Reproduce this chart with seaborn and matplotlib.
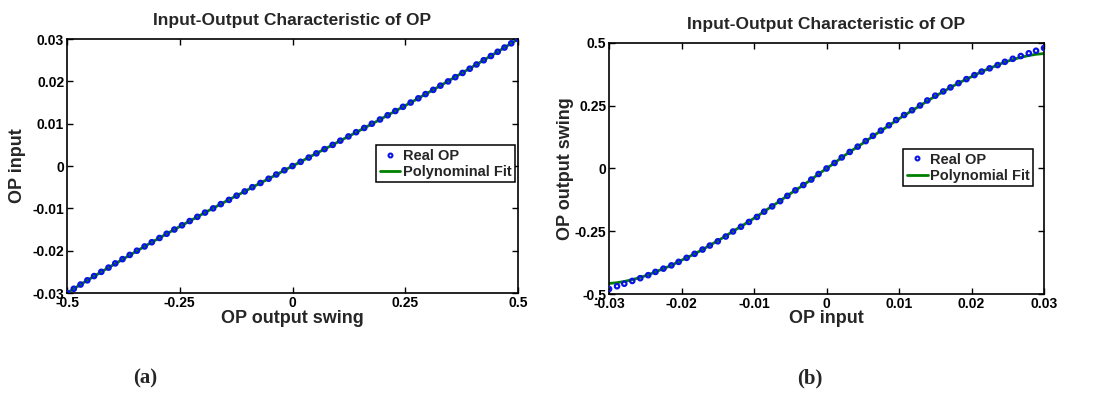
import matplotlib
matplotlib.use("Agg")
import matplotlib.pyplot as plt
import seaborn as sns
from matplotlib.lines import Line2D

# ---------------- data ----------------
# (a) OP input swept in 1 mV steps, measured output swing
a_input = [-0.030, -0.029, -0.028, -0.027, -0.026, -0.025, -0.024, -0.023, -0.022, -0.021,
           -0.020, -0.019, -0.018, -0.017, -0.016, -0.015, -0.014, -0.013, -0.012, -0.011,
           -0.010, -0.009, -0.008, -0.007, -0.006, -0.005, -0.004, -0.003, -0.002, -0.001,
           0.000, 0.001, 0.002, 0.003, 0.004, 0.005, 0.006, 0.007, 0.008, 0.009,
           0.010, 0.011, 0.012, 0.013, 0.014, 0.015, 0.016, 0.017, 0.018, 0.019,
           0.020, 0.021, 0.022, 0.023, 0.024, 0.025, 0.026, 0.027, 0.028, 0.029, 0.030]
a_swing_real = [-0.500, -0.485, -0.470, -0.455, -0.440, -0.424, -0.408, -0.393, -0.377, -0.361,
                -0.345, -0.328, -0.312, -0.295, -0.279, -0.262, -0.245, -0.228, -0.211, -0.194,
                -0.176, -0.159, -0.141, -0.124, -0.106, -0.089, -0.071, -0.053, -0.036, -0.018,
                0.000, 0.018, 0.036, 0.053, 0.071, 0.089, 0.106, 0.124, 0.141, 0.159,
                0.176, 0.194, 0.211, 0.228, 0.245, 0.262, 0.279, 0.295, 0.312, 0.328,
                0.345, 0.361, 0.377, 0.393, 0.408, 0.424, 0.440, 0.455, 0.470, 0.485, 0.500]
a_swing_fit = [-0.500, -0.485, -0.470, -0.455, -0.439, -0.424, -0.408, -0.392, -0.376, -0.360,
               -0.344, -0.328, -0.312, -0.295, -0.279, -0.262, -0.245, -0.228, -0.211, -0.194,
               -0.177, -0.159, -0.142, -0.124, -0.106, -0.089, -0.071, -0.053, -0.035, -0.018,
               0.000, 0.018, 0.035, 0.053, 0.071, 0.089, 0.106, 0.124, 0.142, 0.159,
               0.177, 0.194, 0.211, 0.228, 0.245, 0.262, 0.279, 0.295, 0.312, 0.328,
               0.344, 0.360, 0.376, 0.392, 0.408, 0.424, 0.439, 0.455, 0.470, 0.485, 0.500]

# (b) output swing against OP input
b_input = [-0.0300, -0.0289, -0.0279, -0.0268, -0.0257, -0.0246, -0.0236, -0.0225, -0.0214, -0.0204,
           -0.0193, -0.0182, -0.0171, -0.0161, -0.0150, -0.0139, -0.0129, -0.0118, -0.0107, -0.0096,
           -0.0086, -0.0075, -0.0064, -0.0054, -0.0043, -0.0032, -0.0021, -0.0011,
           0.0000, 0.0011, 0.0021, 0.0032, 0.0043, 0.0054, 0.0064, 0.0075, 0.0086, 0.0096,
           0.0107, 0.0118, 0.0129, 0.0139, 0.0150, 0.0161, 0.0171, 0.0182, 0.0193, 0.0204,
           0.0214, 0.0225, 0.0236, 0.0246, 0.0257, 0.0268, 0.0279, 0.0289, 0.0300]
b_swing_real = [-0.480, -0.469, -0.459, -0.448, -0.437, -0.425, -0.412, -0.399, -0.386, -0.372,
                -0.356, -0.340, -0.323, -0.307, -0.290, -0.271, -0.251, -0.232, -0.213, -0.193,
                -0.172, -0.151, -0.130, -0.109, -0.087, -0.066, -0.044, -0.022,
                0.000, 0.022, 0.044, 0.066, 0.087, 0.109, 0.130, 0.151, 0.172, 0.193,
                0.213, 0.232, 0.251, 0.271, 0.290, 0.307, 0.323, 0.340, 0.356, 0.372,
                0.386, 0.399, 0.412, 0.425, 0.437, 0.448, 0.459, 0.469, 0.480]
b_swing_fit = [-0.458, -0.455, -0.450, -0.443, -0.434, -0.424, -0.412, -0.399, -0.386, -0.371,
               -0.356, -0.340, -0.323, -0.306, -0.288, -0.269, -0.250, -0.231, -0.211, -0.191,
               -0.171, -0.150, -0.129, -0.108, -0.087, -0.066, -0.044, -0.022,
               0.000, 0.022, 0.044, 0.066, 0.087, 0.108, 0.129, 0.150, 0.171, 0.191,
               0.211, 0.231, 0.250, 0.269, 0.288, 0.306, 0.323, 0.340, 0.356, 0.371,
               0.386, 0.399, 0.412, 0.424, 0.434, 0.443, 0.450, 0.455, 0.458]

swing_ticks = [-0.5, -0.25, 0, 0.25, 0.5]
swing_labels = ["-0.5", "-0.25", "0", "0.25", "0.5"]
input_ticks = [-0.03, -0.02, -0.01, 0, 0.01, 0.02, 0.03]
input_labels = ["-0.03", "-0.02", "-0.01", "0", "0.01", "0.02", "0.03"]

title = "Input-Output Characteristic of OP"

# ---------------- style ----------------
sns.set_theme(style="ticks")
plt.rcParams["font.family"] = ["Liberation Sans", "DejaVu Sans"]
plt.rcParams["font.weight"] = "bold"
plt.rcParams["axes.labelweight"] = "bold"
plt.rcParams["axes.titleweight"] = "bold"

DOT = "#0a14e6"
FIT = "#008000"

fig = plt.figure(figsize=(10.97, 3.98), dpi=100)
fig.patch.set_facecolor("white")
ax1 = fig.add_axes([0.0611, 0.2638, 0.4111, 0.638])
ax2 = fig.add_axes([0.5552, 0.2613, 0.3965, 0.6307])


def draw(ax, xr, yr, xf, yf, fit_label, legend_anchor):
    sns.lineplot(x=xf, y=yf, ax=ax, color=FIT, lw=2.0, sort=False,
                 estimator=None, zorder=2, legend=False)
    sns.scatterplot(x=xr, y=yr, ax=ax, marker="o", s=10, facecolor="none",
                    edgecolor=DOT, linewidth=1.6, zorder=3, legend=False)
    handles = [
        Line2D([], [], ls="", marker="o", ms=2.8, mfc="none", mec=DOT, mew=1.5),
        Line2D([], [], color=FIT, lw=2.0),
    ]
    leg = ax.legend(handles, ["Real OP", fit_label], loc="upper right",
                    bbox_to_anchor=legend_anchor, borderaxespad=0,
                    fancybox=False, framealpha=1, edgecolor="black",
                    prop={"size": 10.5, "weight": "bold"},
                    handlelength=1.4, handletextpad=0.15, borderpad=0.25,
                    labelspacing=0.15)
    leg.get_frame().set_linewidth(1.1)
    for s in ax.spines.values():
        s.set_visible(True)
        s.set_color("black")
        s.set_linewidth(1.2)
    ax.tick_params(direction="in", top=True, right=True, length=4, width=1,
                   labelsize=10, pad=2, colors="black")
    for lab in ax.get_xticklabels() + ax.get_yticklabels():
        lab.set_fontweight("bold")


draw(ax1, a_swing_real, a_input, a_swing_fit, a_input,
     "Polynominal Fit", (0.993, 0.583))
ax1.set_xlim(-0.5, 0.5)
ax1.set_ylim(-0.03, 0.03)
ax1.set_xticks(swing_ticks, swing_labels, fontweight="bold")
ax1.set_yticks(input_ticks, input_labels, fontweight="bold")
ax1.set_xlabel("OP output swing", fontsize=13, fontweight="bold", va="center")
ax1.set_ylabel("OP input", fontsize=13, fontweight="bold", va="center")
ax1.xaxis.set_label_coords(0.5, -0.1)
ax1.yaxis.set_label_coords(-0.109, 0.5)
ax1.set_title(title, fontsize=12.5, fontweight="bold", y=1.075, va="center", pad=0)

draw(ax2, b_input, b_swing_real, b_input, b_swing_fit,
     "Polynomial Fit", (0.975, 0.578))
ax2.set_xlim(-0.03, 0.03)
ax2.set_ylim(-0.5, 0.5)
ax2.set_xticks(input_ticks, input_labels, fontweight="bold")
ax2.set_yticks(swing_ticks, swing_labels, fontweight="bold")
ax2.set_xlabel("OP input", fontsize=13, fontweight="bold", va="center")
ax2.set_ylabel("OP output swing", fontsize=13, fontweight="bold", va="center")
ax2.xaxis.set_label_coords(0.5, -0.098)
ax2.yaxis.set_label_coords(-0.101, 0.5)
ax2.set_title(title, fontsize=12.5, fontweight="bold", y=1.072, va="center", pad=0)

# panel captions
fig.text(145 / 1097, 1 - 378 / 398, "(a)", family=["Liberation Serif"],
         fontsize=15, fontweight="bold", ha="center", va="center")
fig.text(810 / 1097, 1 - 378 / 398, "(b)", family=["Liberation Serif"],
         fontsize=15, fontweight="bold", ha="center", va="center")

fig.savefig("out.png", dpi=100, facecolor="white")
